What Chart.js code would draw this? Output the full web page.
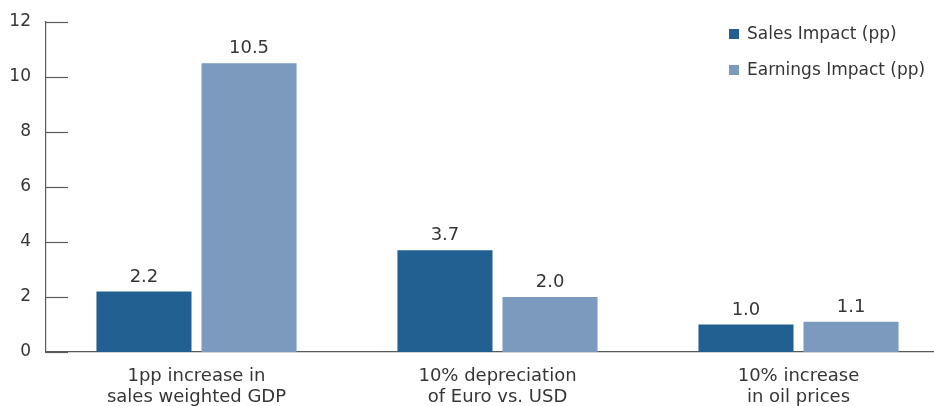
<!DOCTYPE html>
<html>
<head>
<meta charset="utf-8">
<script src="https://cdn.jsdelivr.net/npm/chart.js@4/dist/chart.umd.min.js"></script>
<style>
    html, body { margin: 0; padding: 0; background: #fff; overflow: hidden; }
    #wrap { width: 960px; height: 406px; position: relative; }
</style>
</head>
<body>
<div id="wrap"><canvas id="impact-chart"></canvas></div>
<script>
var categories = [
    ['1pp increase in', 'sales weighted GDP'],
    ['10% depreciation', 'of Euro vs. USD'],
    ['10% increase', 'in oil prices']
];
var salesImpact = [2.2, 3.7, 1.0];
var earningsImpact = [10.5, 2.0, 1.1];
var yTicks = [0, 2, 4, 6, 8, 10, 12];

var textColor = '#363636';
var axisColor = '#5a5a5a';
var fontFamily = '"DejaVu Sans", sans-serif';

// short ticks pointing into the plot from the y axis
var innerTicks = {
    id: 'innerTicks',
    afterDatasetsDraw: function(chart) {
        var ctx = chart.ctx;
        var y = chart.scales.y;
        ctx.save();
        ctx.strokeStyle = axisColor;
        ctx.lineWidth = 1.2;
        for (let i = 0; i < yTicks.length; i++) {
            var py = Math.round(y.getPixelForValue(yTicks[i])) + 0.5;
            ctx.beginPath();
            ctx.moveTo(chart.chartArea.left, py);
            ctx.lineTo(chart.chartArea.left + 22, py);
            ctx.stroke();
        }
        ctx.restore();
    }
};

// value labels over the bars
var barValues = {
    id: 'barValues',
    afterDatasetsDraw: function(chart) {
        var ctx = chart.ctx;
        ctx.save();
        ctx.fillStyle = textColor;
        ctx.font = '18px ' + fontFamily;
        ctx.textAlign = 'center';
        ctx.textBaseline = 'alphabetic';
        chart.data.datasets.forEach(function(ds, di) {
            var meta = chart.getDatasetMeta(di);
            meta.data.forEach(function(bar, i) {
                ctx.fillText(ds.data[i].toFixed(1), bar.x, bar.y - 10);
            });
        });
        ctx.restore();
    }
};

// legend in the top right corner
var cornerLegend = {
    id: 'cornerLegend',
    afterDraw: function(chart) {
        var ctx = chart.ctx;
        ctx.save();
        ctx.font = '17px ' + fontFamily;
        ctx.textBaseline = 'middle';
        ctx.textAlign = 'left';
        chart.data.datasets.forEach(function(ds, i) {
            var cy = 34 + i * 36;
            ctx.fillStyle = ds.backgroundColor;
            ctx.fillRect(729, cy - 5, 10, 10);
            ctx.fillStyle = textColor;
            ctx.fillText(ds.label, 747, cy + 1);
        });
        ctx.restore();
    }
};

var ctx = document.getElementById('impact-chart').getContext('2d');
new Chart(ctx, {
    type: 'bar',
    data: {
        labels: categories,
        datasets: [{
            label: 'Sales Impact (pp)',
            data: salesImpact,
            backgroundColor: '#236092',
            categoryPercentage: 0.698,
            barPercentage: 0.905
        }, {
            label: 'Earnings Impact (pp)',
            data: earningsImpact,
            backgroundColor: '#7b9abe',
            categoryPercentage: 0.698,
            barPercentage: 0.905
        }]
    },
    options: {
        responsive: true,
        maintainAspectRatio: false,
        animation: false,
        layout: { padding: { top: 22, right: 11, left: 0, bottom: 0 } },
        plugins: {
            legend: { display: false },
            tooltip: { enabled: false }
        },
        scales: {
            x: {
                offset: true,
                grid: { display: false, drawTicks: false },
                border: { display: true, color: axisColor, width: 1.2 },
                ticks: {
                    color: textColor,
                    padding: 14,
                    maxRotation: 0,
                    autoSkip: false,
                    font: { family: fontFamily, size: 18, lineHeight: '21px' }
                },
                afterFit: function(scale) { scale.height = 54; }
            },
            y: {
                min: 0,
                max: 12,
                afterBuildTicks: function(scale) {
                    scale.ticks = yTicks.map(function(v) { return { value: v }; });
                },
                grid: { display: false, drawTicks: false },
                border: { display: true, color: axisColor, width: 1.2 },
                ticks: {
                    color: textColor,
                    padding: 15,
                    font: { family: fontFamily, size: 17 }
                },
                afterFit: function(scale) {
                    scale.width = 46;
                    scale.paddingTop = 0;
                    scale.paddingBottom = 0;
                }
            }
        }
    },
    plugins: [innerTicks, barValues, cornerLegend]
});
</script>
</body>
</html>
